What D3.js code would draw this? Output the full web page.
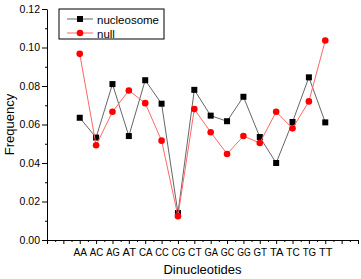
<!DOCTYPE html>
<html>
  <head>
    <meta charset="utf-8">
    <title>Dinucleotide frequency</title>
    <script src="https://cdn.jsdelivr.net/npm/d3@7"></script>
    <style>
      body { margin: 0; background: #fff; }
      svg { display: block; font-family: "Liberation Sans", Arial, sans-serif; }
      .axis path, .axis line { stroke: #000; stroke-width: 1; }
      .axis text { font-size: 10px; fill: #000; }
    </style>
  </head>
  <body>
    <svg id="chart" width="361" height="279"></svg>

    <script>
      // data
      dinucleotides = ["AA", "AC", "AG", "AT", "CA", "CC", "CG", "CT",
                       "GA", "GC", "GG", "GT", "TA", "TC", "TG", "TT"];
      nucleosome = [0.0635, 0.0532, 0.0810, 0.0540, 0.0830, 0.0708, 0.0140, 0.0780,
                    0.0646, 0.0617, 0.0744, 0.0535, 0.0400, 0.0613, 0.0845, 0.0611];
      nullModel = [0.0967, 0.0492, 0.0666, 0.0777, 0.0711, 0.0516, 0.0124, 0.0680,
                   0.0560, 0.0447, 0.0540, 0.0504, 0.0666, 0.0580, 0.0720, 0.1036];
      yTicks = [0, 0.02, 0.04, 0.06, 0.08, 0.10, 0.12];

      // elements
      svg = d3.select("#chart");
      margin = { left: 47, right: 3, top: 9, bottom: 39 };
      width = 361 - margin.left - margin.right;
      height = 279 - margin.top - margin.bottom;
      g = svg.append("g")
        .attr("transform", "translate(" + margin.left + "," + margin.top + ")");

      // scales: categories sit on integer positions 2..17 of a 0..19 axis
      x = d3.scaleLinear().domain([0, 19]).range([0, width]);
      y = d3.scaleLinear().domain([0, 0.12]).range([height, 0]);
      pos = function(i) { return x(i + 2); };

      // x axis: minor ticks every half unit, major at integers
      xAxisG = g.append("g")
        .attr("class", "axis")
        .attr("transform", "translate(0," + height + ")");
      xAxisG.call(d3.axisBottom(x)
        .tickValues(d3.range(0, 19.01, 0.5).filter(function(d) { return d % 1 != 0; }))
        .tickSize(2).tickSizeOuter(0).tickFormat(""));
      xAxisG.append("g").call(d3.axisBottom(x)
        .tickValues(d3.range(0, 20, 1))
        .tickSize(4).tickSizeOuter(0)
        .tickFormat(function(d) { return dinucleotides[d - 2] || ""; }))
        .call(function(s) { s.select(".domain").remove(); })
        .selectAll("text")
          .attr("dy", "0.9em").attr("y", 7)
          .attr("textLength", function() { return this.textContent ? 13.5 : null; })
          .attr("lengthAdjust", "spacingAndGlyphs")
          .style("font-size", "10.5px");
      xAxisG.selectAll(".tick line").attr("stroke", "#000");

      // y axis: minor ticks at 0.01
      yAxisG = g.append("g").attr("class", "axis");
      yAxisG.call(d3.axisLeft(y)
        .tickValues([0.01, 0.03, 0.05, 0.07, 0.09, 0.11])
        .tickSize(2).tickSizeOuter(0).tickFormat(""));
      yAxisG.append("g").call(d3.axisLeft(y)
        .tickValues(yTicks)
        .tickSize(5).tickSizeOuter(0)
        .tickFormat(d3.format(".2f")))
        .call(function(s) { s.select(".domain").remove(); })
        .selectAll("text").attr("x", -7).style("font-size", "10.5px");

      // titles
      svg.append("text")
        .attr("x", margin.left + width / 2)
        .attr("y", 274)
        .attr("text-anchor", "middle")
        .style("font-size", "13px")
        .text("Dinucleotides");
      svg.append("text")
        .attr("transform", "translate(14," + (margin.top + height / 2) + ") rotate(-90)")
        .attr("text-anchor", "middle")
        .style("font-size", "13px")
        .text("Frequency");

      // series
      line = d3.line()
        .x(function(d, i) { return pos(i); })
        .y(function(d) { return y(d); });

      g.append("path").datum(nucleosome)
        .attr("d", line).attr("fill", "none")
        .attr("stroke", "#666").attr("stroke-width", 1);
      g.selectAll(".sq").data(nucleosome).enter().append("rect")
        .attr("class", "sq")
        .attr("x", function(d, i) { return pos(i) - 3; })
        .attr("y", function(d) { return y(d) - 3; })
        .attr("width", 6).attr("height", 6)
        .attr("fill", "#000");

      g.append("path").datum(nullModel)
        .attr("d", line).attr("fill", "none")
        .attr("stroke", "#ff6666").attr("stroke-width", 1);
      g.selectAll(".dot").data(nullModel).enter().append("circle")
        .attr("class", "dot")
        .attr("cx", function(d, i) { return pos(i); })
        .attr("cy", function(d) { return y(d); })
        .attr("r", 3.3)
        .attr("fill", "#ff0000");

      // legend
      legend = svg.append("g").attr("transform", "translate(59,9)");
      legend.append("rect")
        .attr("width", 105).attr("height", 30)
        .attr("fill", "#fff").attr("stroke", "#000").attr("stroke-width", 1);
      entries = [
        { name: "nucleosome", stroke: "#666", shape: "square" },
        { name: "null", stroke: "#ff6666", shape: "circle" }
      ];
      entries.forEach(function(e, i) {
        ly = 10 + i * 14;
        legend.append("line")
          .attr("x1", 8).attr("x2", 34).attr("y1", ly).attr("y2", ly)
          .attr("stroke", e.stroke);
        if (e.shape == "square") {
          legend.append("rect")
            .attr("x", 18).attr("y", ly - 3).attr("width", 6).attr("height", 6)
            .attr("fill", "#000");
        } else {
          legend.append("circle")
            .attr("cx", 21).attr("cy", ly).attr("r", 3.3).attr("fill", "#ff0000");
        }
        legend.append("text")
          .attr("x", 38).attr("y", ly + 4.5)
          .style("font-size", "11.5px")
          .text(e.name);
      });
    </script>
  </body>
</html>
